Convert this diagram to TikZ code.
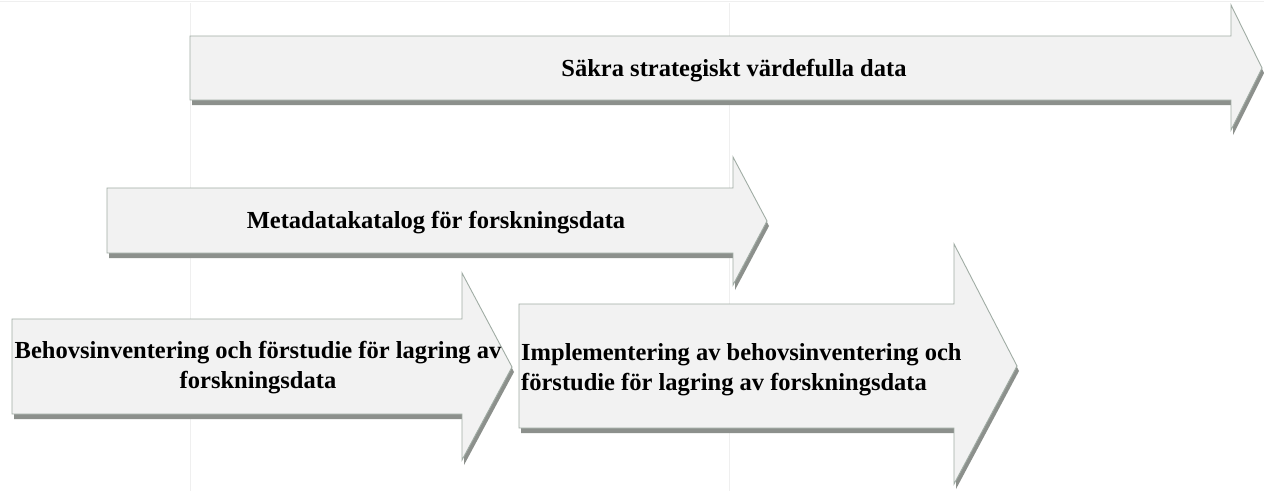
\documentclass[tikz,border=0pt]{standalone}
\usepackage{fontspec}
\setmainfont{Liberation Serif}
\definecolor{arrowfill}{HTML}{F2F2F2}
\definecolor{arrowline}{HTML}{A0ACA4}
\definecolor{arrowshade}{HTML}{8C908C}
\definecolor{gridline}{HTML}{EFEFEF}
% block arrow: left x, body top, body bottom, head x, head top, head bottom, tip x, tip y
\newcommand\tlarrow[8]{%
  \fill[arrowshade,shift={(2,5)}] (#1,#2) -- (#4,#2) -- (#4,#5) -- (#7,#8) -- (#4,#6) -- (#4,#3) -- (#1,#3) -- cycle;
  \draw[arrowline,line width=0.9pt,fill=arrowfill,line join=miter] (#1,#2) -- (#4,#2) -- (#4,#5) -- (#7,#8) -- (#4,#6) -- (#4,#3) -- (#1,#3) -- cycle;
}
\tikzset{lbl/.style={font=\fontsize{24.5}{29.5}\selectfont\bfseries, inner sep=0pt, text=black}}
\begin{document}
\begin{tikzpicture}[x=1pt,y=-1pt]
\useasboundingbox (0,0) rectangle (1264,491);
\fill[white] (0,0) rectangle (1264,491);
% faint table rules behind the timeline
\draw[gridline,line width=1.2pt] (0,1.5) -- (1264,1.5);
\draw[gridline,line width=0.8pt] (190,3) -- (190,491);
\draw[gridline,line width=0.8pt] (729,3) -- (729,491);
% timeline arrows
\tlarrow{190}{36}{100}{1231}{5}{130}{1262}{68}
\tlarrow{107}{188}{253}{733}{157}{285}{767}{221}
\tlarrow{12}{319}{414}{462}{273}{460}{512}{367}
\tlarrow{519}{304}{428}{954}{244}{484}{1017}{366}
% labels (multi-line labels are anchored at the baseline of their last line)
\node[lbl,anchor=base] (t1) at (734,76) {Säkra strategiskt värdefulla data};
\node[lbl,anchor=base] (t2) at (436,228) {Metadatakatalog för forskningsdata};
\node[lbl,anchor=base,align=center] (t3) at (258,388) {Behovsinventering och förstudie för lagring av\\forskningsdata};
\node[lbl,anchor=base west,align=left] (t4) at (521,390) {Implementering av behovsinventering och\\förstudie för lagring av forskningsdata};
\end{tikzpicture}
\end{document}
